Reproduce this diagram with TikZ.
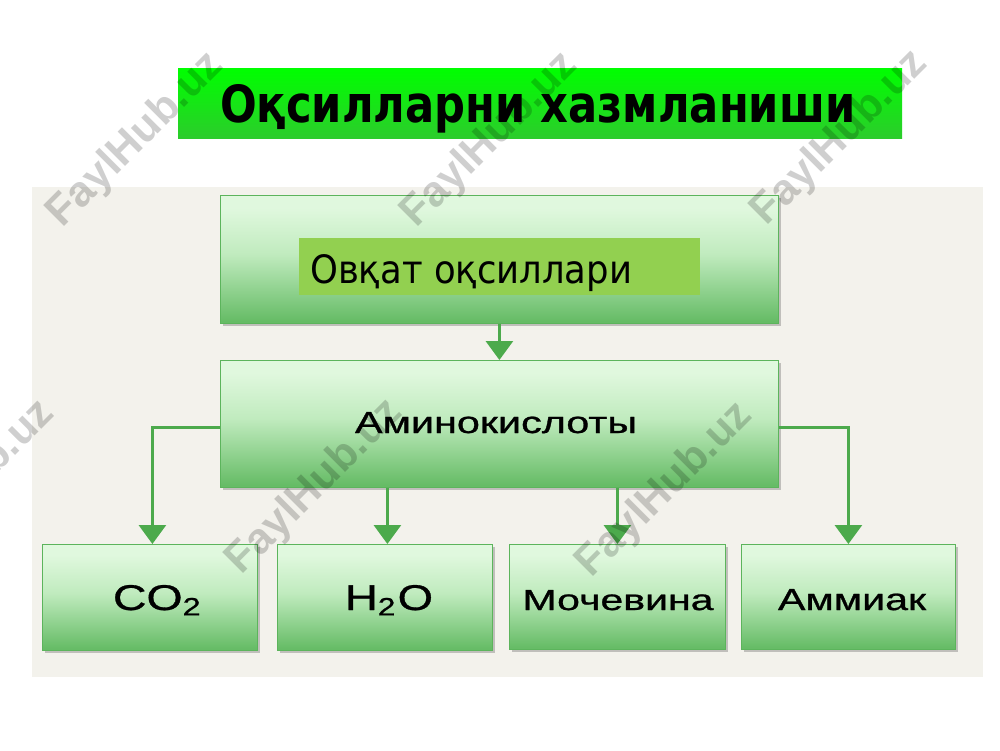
\documentclass[tikz,border=0pt]{standalone}
\usepackage{fontspec}
\usepackage{graphicx}
\setmainfont{Liberation Sans}
\newfontfamily\boxfont{Liberation Sans}[FakeBold=0.8]
\newfontfamily\comicfont{DejaVu Sans}
\usetikzlibrary{arrows.meta,shadows}

\definecolor{panel}{RGB}{243,242,236}
\definecolor{gtop}{RGB}{224,248,222}
\definecolor{gmid}{RGB}{192,235,190}
\definecolor{gbot}{RGB}{102,188,102}
\definecolor{gborder}{RGB}{92,180,92}
\definecolor{arrowgreen}{RGB}{76,170,76}
\definecolor{labelgreen}{RGB}{146,208,80}
\definecolor{titletop}{RGB}{0,255,0}
\definecolor{titlebot}{RGB}{44,204,44}

\pgfdeclareverticalshading{boxshade}{100bp}{color(0bp)=(gbot); color(26bp)=(gbot); color(52bp)=(gmid); color(70bp)=(gtop); color(100bp)=(gtop)}

\tikzset{
  gbox/.style={rectangle, draw=gborder, line width=0.8pt, shading=boxshade, inner sep=0pt, anchor=north west,
    drop shadow={shadow xshift=2.5pt, shadow yshift=-3pt, opacity=0.3, fill=black!70}},
  arr/.style={draw=arrowgreen, line width=3pt, -{Triangle[width=27pt,length=19pt]}},
  lbl/.style={anchor=base, inner sep=0pt, text=black, font=\boxfont},
  wmark/.style={rotate=45, text=black, text opacity=0.19, font=\bfseries, inner sep=0pt}
}

\begin{document}
\begin{tikzpicture}[x=1pt,y=-1pt]
\useasboundingbox (0,0) rectangle (1000,750);
\fill[white] (0,0) rectangle (1000,750);

% background panel
\node[fill=panel, anchor=north west, minimum width=951pt, minimum height=490pt, inner sep=0pt] (panel) at (32,187) {};

% title
\node[anchor=north west, top color=titletop, bottom color=titlebot, minimum width=724pt, minimum height=70pt, inner sep=0pt] (title) at (178,68) {};
\node[lbl, anchor=base west] (titletext) at (220,122) {\resizebox{635pt}{38pt}{\comicfont\bfseries Оқсилларни хазмланиши}};

% top box
\node[gbox, minimum width=558pt, minimum height=128pt] (food) at (220,195) {};
\node[fill=labelgreen, anchor=north west, minimum width=401pt, minimum height=57pt, inner sep=0pt] (foodlbl) at (299,238) {};
\node[lbl, anchor=base west] (foodtext) at (310,283) {\resizebox{322pt}{29pt}{\comicfont Овқат оқсиллари}};

% amino acids
\node[gbox, minimum width=558pt, minimum height=127pt] (amino) at (220,360) {};
\node[lbl] (aminotext) at (496,433) {\resizebox{282pt}{21pt}{Аминокислоты}};

% bottom row
\node[gbox, minimum width=215pt, minimum height=106pt] (co2) at (42,544) {};
\node[gbox, minimum width=215pt, minimum height=106pt] (h2o) at (277,544) {};
\node[gbox, minimum width=216pt, minimum height=105pt] (urea) at (509,544) {};
\node[gbox, minimum width=214pt, minimum height=105pt] (nh3) at (741,544) {};

\node[lbl] (co2text) at (158,610) {\resizebox{90pt}{25pt}{CO\textsubscript{2}}};
\node[lbl] (h2otext) at (389,610) {\resizebox{88pt}{25pt}{H\textsubscript{2}O}};
\node[lbl] (ureatext) at (618,610) {\resizebox{191pt}{20pt}{Мочевина}};
\node[lbl] (nh3text) at (852,610) {\resizebox{148pt}{21pt}{Аммиак}};

% connectors
\draw[arr] (food.south) -- (amino.north);
\draw[arr] ([yshift=-3.5pt]amino.west) -| ([xshift=2.5pt]co2.north);
\draw[arr] ([xshift=2.5pt]h2o.north |- amino.south) -- ([xshift=2.5pt]h2o.north);
\draw[arr] (urea.north |- amino.south) -- (urea.north);
\draw[arr] ([yshift=-3.5pt]amino.east) -| (nh3.north);

% watermarks
\foreach \wx/\wy [count=\i] in {136/140, 490/140, 840/138, -33/488, 315/487, 665/490}
  \node[wmark] (wm\i) at (\wx,\wy) {\resizebox{229pt}{!}{FaylHub.uz}};
\end{tikzpicture}
\end{document}
